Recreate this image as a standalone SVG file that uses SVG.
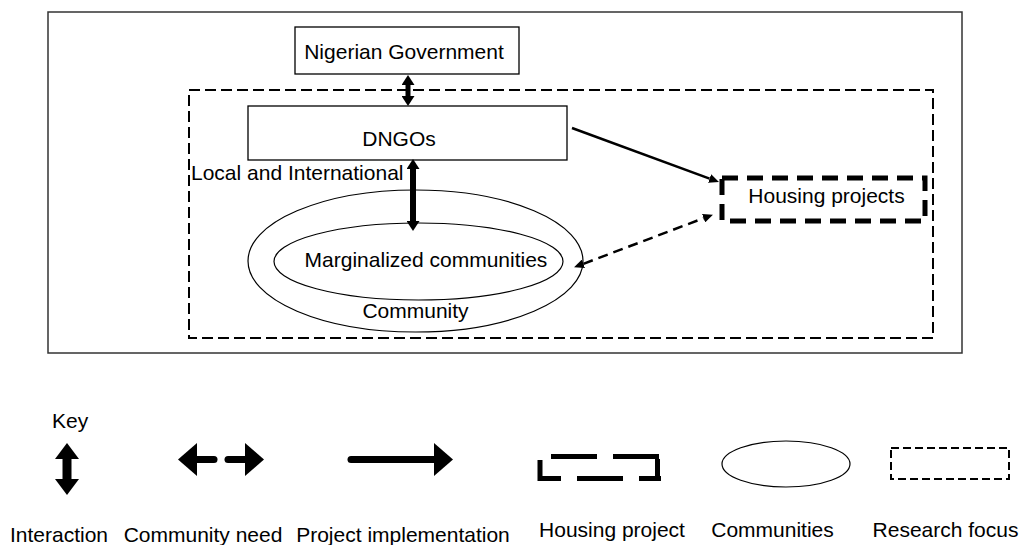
<svg xmlns="http://www.w3.org/2000/svg" width="1023" height="545" viewBox="0 0 1023 545">
<defs>
<style>
text{font-family:"Liberation Sans",Arial,sans-serif;font-size:21px;fill:#000}
.c{text-anchor:middle}
.box{fill:#fff;stroke:#000;stroke-width:1.3}
.ell{fill:none;stroke:#000;stroke-width:1.2}
.rf{fill:none;stroke:#000;stroke-width:2;stroke-dasharray:11 5}
.hp{fill:none;stroke:#000;stroke-width:5;stroke-dasharray:16 9}
.hpk{fill:none;stroke:#000;stroke-width:5}
.thick{stroke:#000;fill:none}
</style>
<marker id="hS" viewBox="0 0 10 10" preserveAspectRatio="none" refX="0" refY="5" markerUnits="userSpaceOnUse" markerWidth="10" markerHeight="13" orient="auto-start-reverse"><path d="M0,0 L10,5 L0,10 z" fill="#000"/></marker>
<marker id="hT" viewBox="0 0 10 10" preserveAspectRatio="none" refX="0" refY="5" markerUnits="userSpaceOnUse" markerWidth="10" markerHeight="9" orient="auto-start-reverse"><path d="M0,0 L10,5 L0,10 z" fill="#000"/></marker>
<marker id="hK" viewBox="0 0 10 10" preserveAspectRatio="none" refX="0" refY="5" markerUnits="userSpaceOnUse" markerWidth="16" markerHeight="24" orient="auto-start-reverse"><path d="M0,0 L10,5 L0,10 z" fill="#000"/></marker>
<marker id="hK2" viewBox="0 0 10 10" preserveAspectRatio="none" refX="0" refY="5" markerUnits="userSpaceOnUse" markerWidth="19" markerHeight="33" orient="auto-start-reverse"><path d="M0,0 L10,5 L0,10 z" fill="#000"/></marker>
</defs>
<rect width="1023" height="545" fill="#fff"/>
<rect x="48" y="12" width="914" height="341" fill="none" stroke="#333" stroke-width="1.5"/>
<g id="research-focus"><rect class="rf" x="189" y="90" width="744" height="248"/></g>
<g id="nigerian-government"><rect class="box" x="295" y="27" width="224" height="47"/><text class="c" x="404" y="59">Nigerian Government</text></g>
<g id="dngos"><rect class="box" x="248" y="106" width="319" height="54"/><text class="c" x="399" y="146">DNGOs</text></g>
<g id="local-international-label"><text x="191" y="180">Local and International</text></g>
<g id="community"><ellipse class="ell" cx="415.5" cy="261" rx="167.5" ry="71"/><text class="c" x="415.5" y="318">Community</text></g>
<g id="marginalized"><ellipse class="ell" cx="418.5" cy="261.5" rx="144.5" ry="38.5"/><text class="c" x="426" y="267">Marginalized communities</text></g>
<g id="housing-projects"><rect class="hp" x="722" y="178" width="203" height="43"/><text class="c" x="826.5" y="203">Housing projects</text></g>
<g id="connectors">
<line class="thick" x1="408" y1="85" x2="408" y2="96" stroke-width="5" marker-start="url(#hS)" marker-end="url(#hS)"/>
<line class="thick" x1="413" y1="169" x2="413" y2="221" stroke-width="6" marker-start="url(#hS)" marker-end="url(#hS)"/>
<line class="thick" x1="572" y1="128" x2="709.6" y2="178.55" stroke-width="2.5" marker-end="url(#hT)"/>
<line class="thick" x1="583.4" y1="263.8" x2="703.6" y2="218.2" stroke-width="2.5" stroke-dasharray="10 6" marker-start="url(#hT)" marker-end="url(#hT)"/>
</g>
<g id="key">
<text x="52" y="428">Key</text>
<line class="thick" x1="67" y1="459" x2="67" y2="479" stroke-width="9" marker-start="url(#hK)" marker-end="url(#hK)"/>
<line class="thick" x1="197" y1="459.5" x2="214" y2="459.5" stroke-width="7" stroke-linecap="round" marker-start="url(#hK2)"/>
<line class="thick" x1="228" y1="459.5" x2="245" y2="459.5" stroke-width="7" stroke-linecap="round" marker-end="url(#hK2)"/>
<line class="thick" x1="351" y1="459.5" x2="434" y2="459.5" stroke-width="7" stroke-linecap="round" marker-end="url(#hK2)"/>
<path class="hpk" d="M540,460 V478.5 H561 M577,478.5 H623 M639,478.5 H661 M551,456.5 H597 M613,456.5 H659 M657.5,459 V481"/>
<ellipse class="ell" cx="786" cy="464" rx="64" ry="23"/>
<rect x="891" y="448" width="118" height="31" fill="none" stroke="#000" stroke-width="2" stroke-dasharray="8 4"/>
<text class="c" x="59" y="542">Interaction</text>
<text class="c" x="203" y="542">Community need</text>
<text class="c" x="403" y="542">Project implementation</text>
<text class="c" x="612" y="537">Housing project</text>
<text class="c" x="772.5" y="537">Communities</text>
<text class="c" x="945.5" y="537">Research focus</text>
</g>
</svg>
